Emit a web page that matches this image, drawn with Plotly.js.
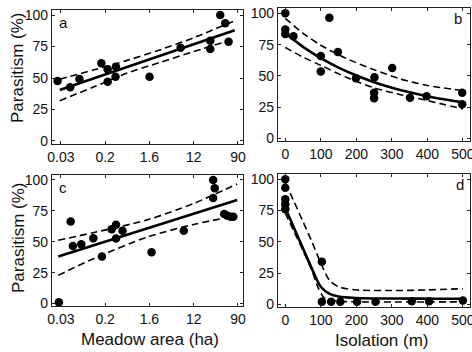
<!DOCTYPE html>
<html><head><meta charset="utf-8">
<script src="https://cdn.plot.ly/plotly-3.0.1.min.js"></script>
<style>html,body{margin:0;padding:0;background:#fff}#chart{width:472px;height:352px}</style>
</head><body><div id="chart"></div>
<script>
// ---- Panel a: parasitism vs meadow area ----
const aAreaHa = [0.026, 0.046, 0.07, 0.188, 0.25, 0.25, 0.364, 0.357, 1.66, 6.75, 25.8, 25.8, 40.5, 50.8, 59];
const aParasitism = [47.6, 42.6, 49.2, 61.7, 56.9, 47.1, 59, 51, 51, 74, 79.6, 73, 100, 93.4, 78.8];
const aFitX = [0.0287, 78];
const aFitY = [40.5, 88];
const aBandX = [0.0287, 0.135, 0.607, 2.72, 12.2, 78];
const aBandUpper = [49, 56.5, 64, 72.5, 82, 95.5];
const aBandLower = [32, 43, 54, 62.5, 71, 81];

// ---- Panel b: parasitism vs isolation ----
const bIsolation = [0, 0, 0, 23, 124, 100, 100, 148, 199, 251, 250, 250, 301, 351, 398, 498, 498];
const bParasitism = [100, 87, 83.4, 81.7, 96.5, 65.9, 53.6, 69.1, 48.2, 49, 36.5, 32.2, 56.3, 32.5, 33.8, 36.5, 27.3];
const bFitX = [0, 50, 100, 150, 200, 250, 300, 350, 400, 450, 500];
const bFitY = [84, 73.2, 64.2, 56.6, 50.3, 45, 40.6, 36.9, 33.8, 31.2, 29];
const bBandX = [0, 50, 100, 175, 250, 325, 400, 500];
const bBandUpper = [96, 84, 74.5, 63.5, 55, 47.5, 42.4, 38.3];
const bBandLower = [72.7, 65, 58.4, 48.5, 40.5, 35, 30.3, 23.6];

// ---- Panel c: parasitism vs meadow area ----
const cAreaHa = [0.0276, 0.047, 0.052, 0.076, 0.131, 0.193, 0.30, 0.365, 0.365, 0.49, 1.82, 7.8, 29.4, 31.6, 29.4, 48.5, 56, 65, 73];
const cParasitism = [1, 66.4, 46.6, 48, 52.8, 38, 60.2, 63.7, 52.6, 58.8, 41.5, 58.8, 100, 93.2, 85.4, 72.4, 71, 70.2, 70.2];
const cFitX = [0.0268, 87];
const cFitY = [38, 83.7];
const cBandX = [0.0268, 0.135, 1.49, 12.2, 87];
const cBandUpper = [51.2, 57.5, 67.7, 81, 96.7];
const cBandLower = [22.8, 36.5, 53.7, 64, 71];

// ---- Panel d: parasitism vs isolation ----
const dIsolation = [0, 0, 0, 0, 0, 103, 103, 129, 155, 202, 254, 356, 405, 500];
const dParasitism = [100, 93.3, 84, 80, 76, 34, 2, 2, 2, 2, 2, 2.5, 2.5, 3];
const dFitX = [0, 25, 50, 75, 100, 125, 150, 200, 300, 400, 500];
const dFitY = [77, 60.8, 44.6, 28.5, 14, 8.3, 6.2, 5, 4.6, 4.5, 4.5];
const dUpperX = [0, 25, 50, 75, 100, 125, 150, 200, 300, 400, 500];
const dUpperY = [97, 82, 66, 50, 33, 19, 14, 11.5, 11, 11.5, 12.5];
const dLowerX = [0, 25, 50, 75, 93, 110, 130, 200, 500];
const dLowerY = [73, 58, 43, 27, 13, 5, 3, 2, 2];

// ---- ticks and labels ----
const areaTickVals = [0.0302, 0.2231, 1.6487, 12.182, 90.017];
const areaTickText = ['0.03', '0.2', '1.6', '12', '90'];
const isoTickVals = [0, 100, 200, 300, 400, 500];
const parTickVals = [0, 25, 50, 75, 100];
const panelLetters = ['a', 'b', 'c', 'd'];
const yTitle = 'Parasitism (%)';
const xTitleArea = 'Meadow area (ha)';
const xTitleIso = 'Isolation (m)';

const W = 472, H = 352;
const tickFont = {family: 'Liberation Sans Narrow, Arial Narrow, Liberation Sans, Arial, sans-serif', size: 14, color: '#111'};
const titleFont = {family: 'Liberation Sans, Arial, sans-serif', size: 17, color: '#111'};

function px2x(p) { return p / W; }
function px2y(p) { return 1 - p / H; }

const dots = (x, y, xa, ya) => ({x, y, xaxis: xa, yaxis: ya, type: 'scatter', mode: 'markers',
  marker: {color: '#000', size: 8.5}, hoverinfo: 'skip'});
const solid = (x, y, xa, ya, shape) => ({x, y, xaxis: xa, yaxis: ya, type: 'scatter', mode: 'lines',
  line: {color: '#000', width: 2.6, shape: shape || 'linear'}, hoverinfo: 'skip'});
const dashed = (x, y, xa, ya) => ({x, y, xaxis: xa, yaxis: ya, type: 'scatter', mode: 'lines',
  line: {color: '#000', width: 1.6, dash: '7px,4px', shape: 'spline', smoothing: 0.8}, hoverinfo: 'skip'});

const data = [
  dashed(aBandX, aBandUpper, 'x', 'y'), dashed(aBandX, aBandLower, 'x', 'y'),
  solid(aFitX, aFitY, 'x', 'y'), dots(aAreaHa, aParasitism, 'x', 'y'),
  dashed(bBandX, bBandUpper, 'x2', 'y2'), dashed(bBandX, bBandLower, 'x2', 'y2'),
  solid(bFitX, bFitY, 'x2', 'y2', 'spline'), dots(bIsolation, bParasitism, 'x2', 'y2'),
  dashed(cBandX, cBandUpper, 'x3', 'y3'), dashed(cBandX, cBandLower, 'x3', 'y3'),
  solid(cFitX, cFitY, 'x3', 'y3'), dots(cAreaHa, cParasitism, 'x3', 'y3'),
  dashed(dUpperX, dUpperY, 'x4', 'y4'), dashed(dLowerX, dLowerY, 'x4', 'y4'),
  solid(dFitX, dFitY, 'x4', 'y4', 'spline'), dots(dIsolation, dParasitism, 'x4', 'y4')
];

const baseAxis = {showline: true, linecolor: '#222', linewidth: 1.2, mirror: 'ticks', ticks: 'inside',
  ticklen: 3, tickwidth: 1, tickcolor: '#222', showgrid: false, zeroline: false, tickfont: tickFont,
  automargin: false, fixedrange: true, ticklabeloverflow: 'allow'};
const areaAxis = (dom, anchor) => Object.assign({}, baseAxis, {type: 'log', range: [-1.694, 2.054],
  tickmode: 'array', tickvals: areaTickVals, ticktext: areaTickText, domain: dom, anchor});
const isoAxis = (dom, anchor) => Object.assign({}, baseAxis, {range: [-20.5, 520],
  tickmode: 'array', tickvals: isoTickVals, domain: dom, anchor});
const parAxis = (dom, anchor) => Object.assign({}, baseAxis, {range: [-2, 104],
  tickmode: 'array', tickvals: parTickVals, domain: dom, anchor});

const leftDom = [px2x(52), px2x(243)];
const rightDom = [px2x(278), px2x(470)];

const ann = (text, x, y, font, extra) => Object.assign({text, x: px2x(x), y: px2y(y), xref: 'paper', yref: 'paper',
  showarrow: false, font, xanchor: 'center', yanchor: 'middle'}, extra || {});
const letterFont = {family: 'Liberation Sans, Arial, sans-serif', size: 15, color: '#111'};

const layout = {
  width: W, height: H, margin: {l: 0, r: 0, t: 0, b: 0}, showlegend: false,
  paper_bgcolor: '#fff', plot_bgcolor: '#fff',
  xaxis: areaAxis(leftDom, 'y'), yaxis: parAxis([px2y(143.5), px2y(10)], 'x'),
  xaxis2: isoAxis(rightDom, 'y2'), yaxis2: parAxis([px2y(141), px2y(8.3)], 'x2'),
  xaxis3: areaAxis(leftDom, 'y3'), yaxis3: parAxis([px2y(306), px2y(175)], 'x3'),
  xaxis4: isoAxis(rightDom, 'y4'), yaxis4: parAxis([px2y(306.8), px2y(174.3)], 'x4'),
  annotations: [
    ann(yTitle, 18, 68, titleFont, {textangle: -90}),
    ann(yTitle, 18, 238, titleFont, {textangle: -90}),
    ann(xTitleArea, 150, 339, titleFont),
    ann(xTitleIso, 382, 340, titleFont),
    ann(panelLetters[0], 63, 23, letterFont),
    ann(panelLetters[1], 458, 18, letterFont),
    ann(panelLetters[2], 63, 187, letterFont),
    ann(panelLetters[3], 460, 184, letterFont)
  ]
};

Plotly.newPlot('chart', data, layout, {staticPlot: true, displayModeBar: false});
</script>
</body></html>
